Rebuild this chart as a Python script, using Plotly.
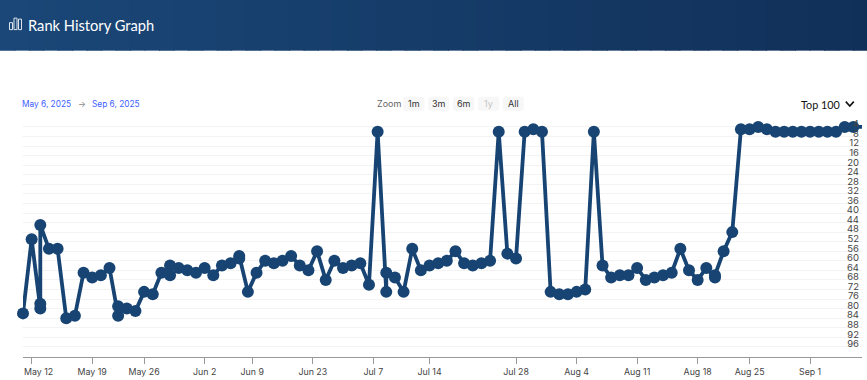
import plotly.graph_objects as go

title = "Rank History Graph"
date_from = "May 6, 2025"
date_to = "Sep 6, 2025"
zoom_buttons = ["1m", "3m", "6m", "1y", "All"]

# Ordinal day index (some days carry several readings) and rank at that index
day_index = [0, 1, 2, 2, 2, 3, 4, 5, 6, 7, 8, 9, 10, 11, 11, 12, 13, 14, 15, 16, 17, 17, 18, 19, 20,
             21, 22, 23, 24, 25, 25, 26, 27, 28, 29, 30, 31, 32, 33, 34, 35, 36, 37, 38, 39, 40, 41,
             42, 42, 43, 44, 45, 46, 47, 48, 49, 50, 51, 52, 53, 54, 55, 56, 57, 58, 59, 60, 61, 62,
             63, 64, 65, 66, 67, 68, 69, 70, 71, 72, 73, 74, 75, 76, 77, 78, 79, 80, 80, 81, 82, 83,
             84, 85, 86, 87, 88, 89, 90, 91, 92, 93, 94, 95, 96, 97]
rank = [82, 51, 80, 78, 45, 55, 55, 84, 83, 65, 67, 66, 63, 83, 79, 80, 81, 73, 74, 65, 66, 62, 63, 64, 65,
        63, 66, 62, 61, 59, 58, 73, 65, 60, 61, 60, 58, 62, 64, 56, 68, 60, 63, 62, 61, 70, 6,
        73, 65, 67, 73, 55, 64, 62, 61, 60, 56, 61, 62, 61, 60, 6, 57, 59, 6, 5, 6, 73, 74,
        74, 73, 72, 6, 62, 67, 66, 66, 63, 68, 67, 66, 65, 55, 64, 68, 63, 67, 66, 56, 48, 5,
        5, 4, 5, 6, 6, 6, 6, 6, 6, 6, 6, 4, 4, 4]

x_tick_pos = [1, 8, 14, 21, 26.5, 33.5, 40.5, 47, 57, 64, 71, 78, 84, 91]
x_tick_labels = ["", "May 19", "May 26", "Jun 2", "Jun 9", "Jun 23", "Jul 7", "Jul 14",
                 "Jul 28", "Aug 4", "Aug 11", "Aug 18", "Aug 25", "Sep 1"]
first_tick_label = "May 12"
y_ticks = list(range(4, 100, 4))

W, H = 867, 380
L, R, T, B = 23.0, 861.7, 115.35, 357.3
NAVY = "#174473"
TICK_FONT = "Inter, 'Liberation Sans', sans-serif"
HEAD_FONT = "Lato, sans-serif"


def X(px):
    return (px - L) / (R - L)


def Y(py):
    return (B - py) / (B - T)


def lerp(a, b, t):
    return round(a + (b - a) * t)


shapes = []
# header gradient
left_c, right_c = (0x1a, 0x47, 0x78), (0x11, 0x30, 0x59)
steps = 60
for s in range(steps):
    t = s / (steps - 1)
    col = "rgb(%d,%d,%d)" % tuple(lerp(a, b, t) for a, b in zip(left_c, right_c))
    shapes.append(dict(type="rect", xref="paper", yref="paper", layer="below",
                       x0=X(W * s / steps), x1=X(W * (s + 1) / steps + 1), y0=Y(0), y1=Y(51),
                       fillcolor=col, line_width=0))

# icon
for (x0, y0, x1) in [(9.5, 23, 12.5), (14, 18.5, 17), (18.5, 19.5, 21.5)]:
    shapes.append(dict(type="rect", xref="paper", yref="paper", layer="above",
                       x0=X(x0), x1=X(x1), y0=Y(y0), y1=Y(30), fillcolor="rgba(0,0,0,0)",
                       line=dict(color="#dfe6ee", width=1)))


def rrect(x0, y0, x1, y1, r=2):
    a, b, c, d = X(x0), X(x1), Y(y0), Y(y1)
    rx, ry = r / (R - L), r / (B - T)
    return (f"M{a+rx},{c} L{b-rx},{c} Q{b},{c} {b},{c-ry} L{b},{d+ry} Q{b},{d} {b-rx},{d} "
            f"L{a+rx},{d} Q{a},{d} {a},{d+ry} L{a},{c-ry} Q{a},{c} {a+rx},{c} Z")


btn_x = [403.3, 428, 453, 478, 502.7]
annotations = []
for lab, bx in zip(zoom_buttons, btn_x):
    shapes.append(dict(type="path", xref="paper", yref="paper", layer="below",
                       path=rrect(bx, 97, bx + 21, 111), fillcolor="#f7f7f7", line_width=0))
    annotations.append(dict(text=lab, x=X(bx + 10.5), y=Y(104), xref="paper", yref="paper",
                            showarrow=False, xanchor="center", yanchor="middle",
                            font=dict(family=TICK_FONT, size=9,
                                      color="#c4c4c4" if lab == "1y" else "#333333")))

# chevron
shapes.append(dict(type="path", xref="paper", yref="paper", layer="above",
                   path=f"M{X(845.5)},{Y(102)} L{X(849.5)},{Y(106.5)} L{X(853.5)},{Y(102)}",
                   line=dict(color="#111111", width=1.6)))


def note(text, x, y, size, color, family=TICK_FONT, anchor="left"):
    annotations.append(dict(text=text, x=X(x), y=Y(y), xref="paper", yref="paper", showarrow=False,
                            xanchor=anchor, yanchor="middle", font=dict(family=family, size=size, color=color),
                            borderpad=0, borderwidth=0))


note(title, 27.5, 25, 14.7, "#ffffff", HEAD_FONT)
note(date_from, 22, 104, 8.3, "#3d5eff")
note("\u2192", 82, 104, 8.3, "#8a8a8a", anchor="center")
note(date_to, 91.5, 104, 8.3, "#3d5eff")
note("Zoom", 377, 104, 9, "#666666")
note("Top 100", 801, 104.5, 10.8, "#111111", HEAD_FONT)
annotations.append(dict(text=first_tick_label, x=1, y=0, xref="x", yref="paper", xshift=6.5, yshift=-14.7,
                        showarrow=False, xanchor="center", yanchor="middle",
                        font=dict(family=TICK_FONT, size=8.8, color="#444444")))

marker_sizes = [12] * (len(rank) - 1) + [0]  # the last reading is cut off at the plot edge

fig = go.Figure(go.Scatter(
    x=day_index, y=rank, mode="lines+markers", cliponaxis=False, hoverinfo="skip",
    line=dict(color=NAVY, width=3.8),
    marker=dict(color=NAVY, size=marker_sizes, opacity=1, line=dict(width=0)),
))
fig.update_layout(
    width=W, height=H, margin=dict(l=L, r=W - R, t=T, b=H - B, pad=0),
    paper_bgcolor="white", plot_bgcolor="white", showlegend=False,
    shapes=shapes, annotations=annotations,
    xaxis=dict(range=[0, 97], tickmode="array", tickvals=x_tick_pos, ticktext=x_tick_labels, automargin=False,
               showgrid=False, zeroline=False, showline=True, linecolor="#999999", linewidth=1,
               ticks="outside", ticklen=6, tickcolor="#999999", tickwidth=1,
               tickfont=dict(family=TICK_FONT, size=8.8, color="#444444")),
    yaxis=dict(range=[100.25, -1], tickmode="array", tickvals=y_ticks, ticktext=[str(v) for v in y_ticks],
               side="right", ticklabelposition="inside", ticklabelshift=3, showgrid=True, gridcolor="#f3f3f3",
               gridwidth=1, zeroline=False, showline=False, ticks="", automargin=False,
               tickfont=dict(family=TICK_FONT, size=9.5, color="#444444")),
)
fig.write_html("out.html", config=dict(displayModeBar=False),
               post_script="document.body.style.margin='0';")
